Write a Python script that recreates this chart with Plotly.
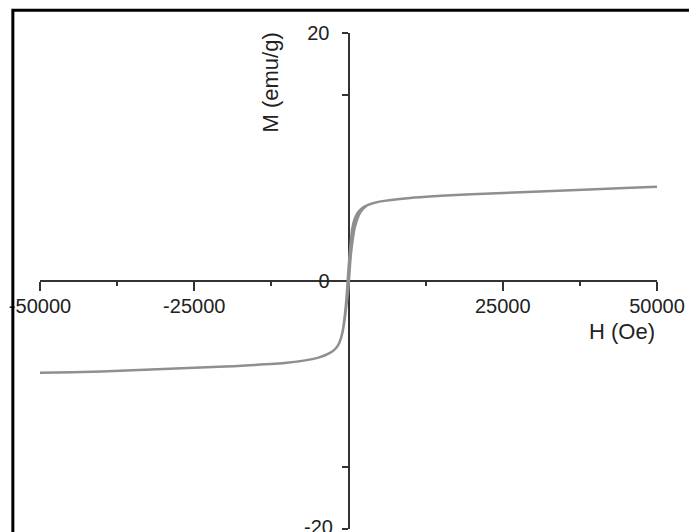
import plotly.graph_objects as go

# Descending branch (from +50000 Oe to -50000 Oe)
H_desc = [50000, 40000, 30000, 20000, 10000, 5000, 3000, 2000, 1500, 1000, 600, 300, 0,
          -200, -400, -700, -1000, -1500, -2000, -3000, -5000, -10000, -20000, -30000, -40000, -50000]
M_desc = [7.6, 7.4, 7.2, 7.0, 6.7, 6.4, 6.1, 5.8, 5.5, 5.0, 4.2, 2.8, 1.0,
          -0.5, -1.8, -3.2, -4.2, -5.0, -5.4, -5.8, -6.2, -6.6, -6.9, -7.1, -7.3, -7.4]
# Ascending branch (from -50000 Oe to +50000 Oe)
H_asc = [-50000, -40000, -30000, -20000, -10000, -5000, -3000, -2000, -1500, -1000, -600, -300, 0,
         200, 400, 700, 1000, 1500, 2000, 3000, 5000, 10000, 20000, 30000, 40000, 50000]
M_asc = [-7.4, -7.3, -7.1, -6.9, -6.6, -6.2, -5.8, -5.4, -5.0, -4.2, -3.0, -1.8, -0.5,
         1.0, 2.2, 3.4, 4.3, 5.1, 5.6, 6.1, 6.4, 6.7, 7.0, 7.2, 7.4, 7.6]

x_ticks = [-50000, -25000, 0, 25000, 50000]
x_ticktext = ["-50000", "-25000", "", "25000", "50000"]
y_ticks = [-20, -15, 0, 15, 20]
y_ticktext = ["", "", "0", "", "20"]

FONT = "Liberation Sans, Arial, sans-serif"
TXT = "#222222"
AX = "#333333"

fig = go.Figure()
fig.add_trace(go.Scatter(x=H_desc + H_asc, y=M_desc + M_asc, mode="lines",
                         line=dict(color="#8f8f8f", width=2.5, shape="spline", smoothing=0.6),
                         showlegend=False, hoverinfo="skip"))

fig.update_layout(
    width=689, height=532,
    margin=dict(l=40, r=32, t=33, b=3),
    paper_bgcolor="white", plot_bgcolor="white",
    font=dict(family=FONT, size=20, color=TXT),
    xaxis=dict(range=[-50000, 50000], anchor="free", position=0.5,
               showline=True, linecolor=AX, linewidth=2, showgrid=False, zeroline=False,
               ticks="outside", ticklen=9, tickwidth=2, tickcolor=AX,
               tickvals=x_ticks, ticktext=x_ticktext, ticklabelstandoff=-2,
               minor=dict(tickvals=[-37500, -12500, 12500, 37500], ticks="outside",
                          ticklen=4, tickwidth=2, tickcolor=AX),
               layer="below traces", fixedrange=True),
    yaxis=dict(range=[-20, 20], anchor="free", position=0.5,
               showline=True, linecolor=AX, linewidth=2, showgrid=False, zeroline=False,
               ticks="outside", ticklen=6, tickwidth=2, tickcolor=AX,
               tickvals=y_ticks, ticktext=y_ticktext, ticklabelstandoff=8,
               layer="below traces", fixedrange=True),
    annotations=[
        dict(text="H (Oe)", x=1.0, y=0.5, xref="paper", yref="paper",
             xanchor="right", yanchor="middle", yshift=-50, showarrow=False,
             font=dict(family=FONT, size=22, color=TXT)),
        dict(text="M (emu/g)", x=0.5, y=1.0, xref="paper", yref="paper",
             xanchor="center", yanchor="top", xshift=-79, yshift=2, showarrow=False, textangle=-90,
             font=dict(family=FONT, size=22, color=TXT)),
        dict(text=str(y_ticks[0]), x=0, y=y_ticks[0], xref="x", yref="y",
             xanchor="right", yanchor="middle", xshift=-14, yshift=2, showarrow=False,
             font=dict(family=FONT, size=20, color=TXT)),
    ],
    shapes=[
        dict(type="rect", xref="paper", yref="paper", x0=-0.044, x1=1.3, y0=-0.3, y1=1.046,
             line=dict(color="black", width=3), layer="above"),
    ],
)

fig.write_html("out.html", config={"displayModeBar": False},
               post_script="document.body.style.margin='0px';document.body.style.overflow='hidden';")
